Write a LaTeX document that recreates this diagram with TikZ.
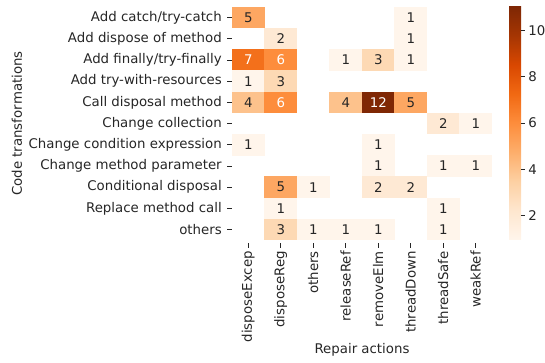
\documentclass[tikz,border=0pt]{standalone}
\usepackage{fontspec}
\setmainfont{DejaVu Sans}
\definecolor{ink}{RGB}{38,38,38}
\definecolor{v1}{RGB}{255,245,235}
\definecolor{v2}{RGB}{254,233,212}
\definecolor{v3}{RGB}{253,217,180}
\definecolor{v4}{RGB}{253,194,140}
\definecolor{v5}{RGB}{253,167,98}
\definecolor{v6}{RGB}{253,141,60}
\definecolor{v7}{RGB}{243,112,27}
\definecolor{v12}{RGB}{127,39,4}
\colorlet{t1}{ink}
\colorlet{t2}{ink}
\colorlet{t3}{ink}
\colorlet{t4}{ink}
\colorlet{t5}{ink}
\colorlet{t6}{white}
\colorlet{t7}{white}
\colorlet{t12}{white}
\definecolor{o0}{RGB}{255,245,235}
\definecolor{o1}{RGB}{254,230,206}
\definecolor{o2}{RGB}{253,208,162}
\definecolor{o3}{RGB}{253,174,107}
\definecolor{o4}{RGB}{253,141,60}
\definecolor{o5}{RGB}{241,105,19}
\definecolor{o6}{RGB}{217,72,1}
\definecolor{o7}{RGB}{166,54,3}
\definecolor{o8}{RGB}{127,39,4}
\pgfdeclareverticalshading{oranges}{100bp}{color(0bp)=(o0); color(25bp)=(o0);
  color(31.25bp)=(o1); color(37.5bp)=(o2); color(43.75bp)=(o3); color(50bp)=(o4);
  color(56.25bp)=(o5); color(62.5bp)=(o6); color(68.75bp)=(o7); color(75bp)=(o8);
  color(100bp)=(o8)}

\begin{document}
\begin{tikzpicture}[
    x=0.75pt, y=0.75pt,
    font=\fontsize{10}{12}\selectfont, text=ink,
    cell/.style={minimum width=24.6pt, minimum height=16.1pt, inner sep=0pt, outer sep=0pt},
    tickmark/.style={draw=ink, line width=0.6pt},
    ticklabel/.style={inner sep=0pt},
    ]
    \useasboundingbox (0,0) rectangle (545,-363);
    \foreach \r/\c/\v in {0/0/5, 0/5/1, 1/1/2, 1/5/1,
        2/0/7, 2/1/6, 2/3/1, 2/4/3, 2/5/1, 3/0/1, 3/1/3,
        4/0/4, 4/1/6, 4/3/4, 4/4/12, 4/5/5, 5/6/2, 5/7/1,
        6/0/1, 6/4/1, 7/4/1, 7/6/1, 7/7/1,
        8/1/5, 8/2/1, 8/4/2, 8/5/2, 9/1/1, 9/6/1,
        10/1/3, 10/2/1, 10/3/1, 10/4/1, 10/6/1}
        \node[cell, fill=v\v, text=t\v] (cell-\r-\c) at ({248.25+32.5*\c}, {-17.6-21.2*\r}) {\v};
    \foreach \t [count=\r from 0] in {{Add catch/try-catch}, {Add dispose of method},
        {Add finally/try-finally}, {Add try-with-resources}, {Call disposal method},
        {Change collection}, {Change condition expression}, {Change method parameter},
        {Conditional disposal}, {Replace method call}, {others}} {
        \node[ticklabel, anchor=east] (row\r) at (222, {-17.6-21.2*\r}) {\t};
        \draw[tickmark] ([xshift=4.1pt]row\r.east) -- ++(4.5,0);
    }
    \foreach \t [count=\c from 0] in {disposeExcep, disposeReg, others, releaseRef,
        removeElm, threadDown, threadSafe, weakRef} {
        \node[ticklabel, rotate=90, anchor=east] (col\c) at ({248.25+32.5*\c}, -251) {\t};
        \draw[tickmark] ([yshift=2.6pt]col\c.east) -- ++(0,4.5);
    }
    \node (xlabel) at (362,-350) {Repair actions};
    \node[rotate=90] (ylabel) at (17,-123.5) {Code transformations};
    \shade[shading=oranges] (509,-7) rectangle (521,-239);
    \foreach \v in {2,4,6,8,10} {
        \node[ticklabel, anchor=west] (bar\v) at (528, {-239+(\v-1)*23.2}) {\v};
        \draw[tickmark] ([xshift=-5.3pt]bar\v.west) -- ++(4.5,0);
    }
\end{tikzpicture}
\end{document}
